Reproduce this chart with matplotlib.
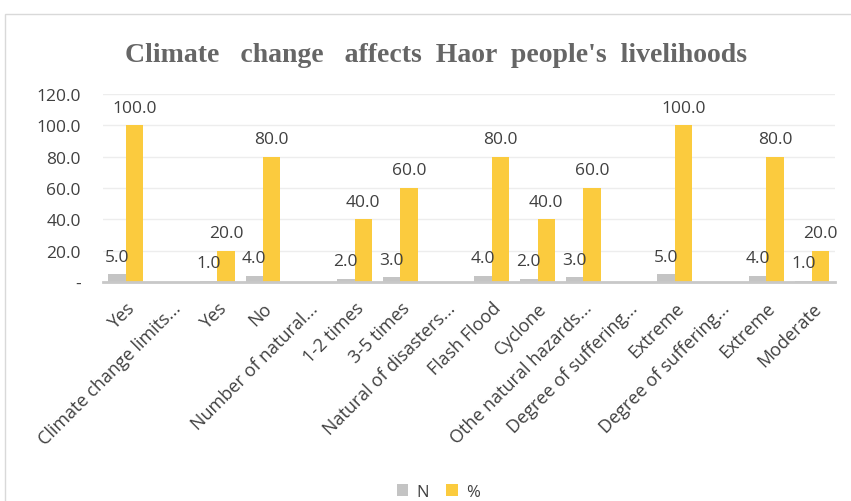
import numpy as np
import matplotlib.pyplot as plt
from matplotlib.patches import Rectangle

categories = ['Yes', 'Climate change limits...', 'Yes', 'No', 'Number of natural...',
              '1-2 times', '3-5 times', 'Natural of disasters...', 'Flash Flood', 'Cyclone',
              'Othe natural hazards...', 'Degree of suffering...', 'Extreme',
              'Degree of suffering...', 'Extreme', 'Moderate']
n_vals = [5, np.nan, 1, 4, np.nan, 2, 3, np.nan, 4, 2, 3, np.nan, 5, np.nan, 4, 1]
pct_vals = [100, np.nan, 20, 80, np.nan, 40, 60, np.nan, 80, 40, 60, np.nan, 100, np.nan, 80, 20]
yticks = [0, 20, 40, 60, 80, 100, 120]

grey = '#C4C4C4'
gold = '#FBCB3E'
txt = '#404040'

plt.rcParams['font.family'] = ['Open Sans', 'DejaVu Sans']

fig = plt.figure(figsize=(8.51, 5.02), dpi=100)
fig.patches.append(Rectangle((5 / 851, -0.05), 1.0, 1 - 15 / 502 + 0.05,
                             transform=fig.transFigure, fill=False,
                             edgecolor='#D9D9D9', linewidth=1))

ax = fig.add_axes([0.121, 0.436, 0.860, 0.375])
x = np.arange(len(categories))
w = 0.38
b1 = ax.bar(x - w / 2, n_vals, w, color=grey, label='N')
b2 = ax.bar(x + w / 2, pct_vals, w, color=gold, label='%')

for rects, vals in [(b1, n_vals), (b2, pct_vals)]:
    for r, v in zip(rects, vals):
        if np.isnan(v):
            continue
        ax.annotate(f'{v:.1f}', (r.get_x() + r.get_width() / 2, v), xytext=(0, 7),
                    textcoords='offset points', ha='center', va='bottom',
                    fontsize=12.5, color=txt)

ax.set_ylim(0, 120)
ax.set_xlim(-0.5, len(categories) - 0.5)
ax.set_yticks(yticks)
ax.set_yticklabels(['-' if t == 0 else f'{t:.1f}' for t in yticks], fontsize=12.5, color=txt)
ax.set_xticks(x)
ax.set_xticklabels(categories, rotation=45, ha='right', rotation_mode='anchor',
                   fontsize=13, color=txt)
ax.tick_params(axis='x', length=0, pad=12)
ax.tick_params(axis='y', length=0, pad=16)
ax.grid(axis='y', color='#EDEDED', linewidth=1)
ax.set_axisbelow(True)
for s in ['top', 'right', 'left']:
    ax.spines[s].set_visible(False)
ax.spines['bottom'].set_color('#C8C8C8')
ax.spines['bottom'].set_linewidth(2)

fig.text(0.512, 0.89, 'Climate   change   affects  Haor  people\'s  livelihoods',
         ha='center', va='center', fontsize=20, fontweight='bold', color='#666666',
         family='Liberation Serif')

fig.legend(handles=[b1, b2], labels=['N', '%'], loc='center', bbox_to_anchor=(0.515, 0.018),
           ncol=2, frameon=False, fontsize=12, handlelength=0.7, handleheight=0.7,
           columnspacing=1.0, handletextpad=0.5, labelcolor=txt)

fig.savefig('out.png', dpi=100)
